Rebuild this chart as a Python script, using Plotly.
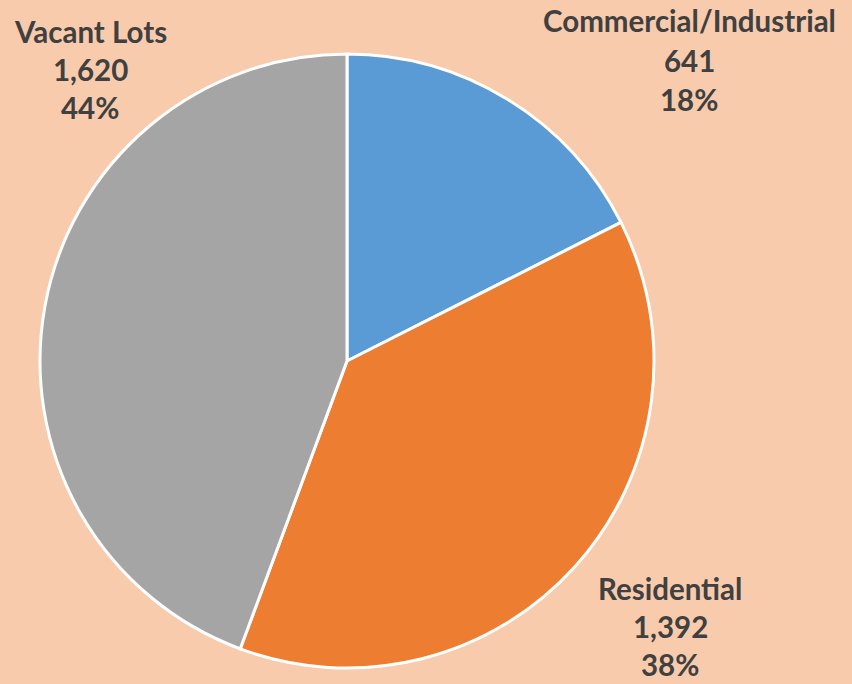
import plotly.graph_objects as go

categories = ["Commercial/Industrial", "Residential", "Vacant Lots"]
values = [641, 1392, 1620]
colors = ["#5B9BD5", "#ED7D31", "#A5A5A5"]

W, H = 852, 684
total = sum(values)

fig = go.Figure(go.Pie(
    labels=categories,
    values=values,
    sort=False,
    direction="clockwise",
    rotation=0,
    marker=dict(colors=colors, line=dict(color="white", width=3)),
    textinfo="none",
    hoverinfo="label+value+percent",
    domain=dict(x=[40 / W, 654 / W], y=[1 - 668 / H, 1 - 54 / H]),
    showlegend=False,
))

# label anchor positions (pixels): center x, first line y, line gap
label_pos = {
    "Commercial/Industrial": (689, 21, 39),
    "Residential": (670, 588, 38),
    "Vacant Lots": (90, 31.5, 37.8),
}
annotations = []
for cat, v in zip(categories, values):
    cx, y0, gap = label_pos[cat]
    lines = [cat, f"{v:,}", f"{round(v / total * 100)}%"]
    for i, t in enumerate(lines):
        annotations.append(dict(
            x=cx / W, y=1 - (y0 + i * gap) / H,
            xref="paper", yref="paper",
            text=f"<b>{t}</b>", showarrow=False,
            xanchor="center", yanchor="middle",
            font=dict(family="Lato, Open Sans, sans-serif", size=29.5, color="#404040"),
        ))

fig.update_layout(
    width=W, height=H,
    margin=dict(l=0, r=0, t=0, b=0),
    paper_bgcolor="#F8CBAD",
    plot_bgcolor="#F8CBAD",
    annotations=annotations,
)

fig.write_html("out.html", config={"displayModeBar": False},
               post_script="document.body.style.margin='0';")
